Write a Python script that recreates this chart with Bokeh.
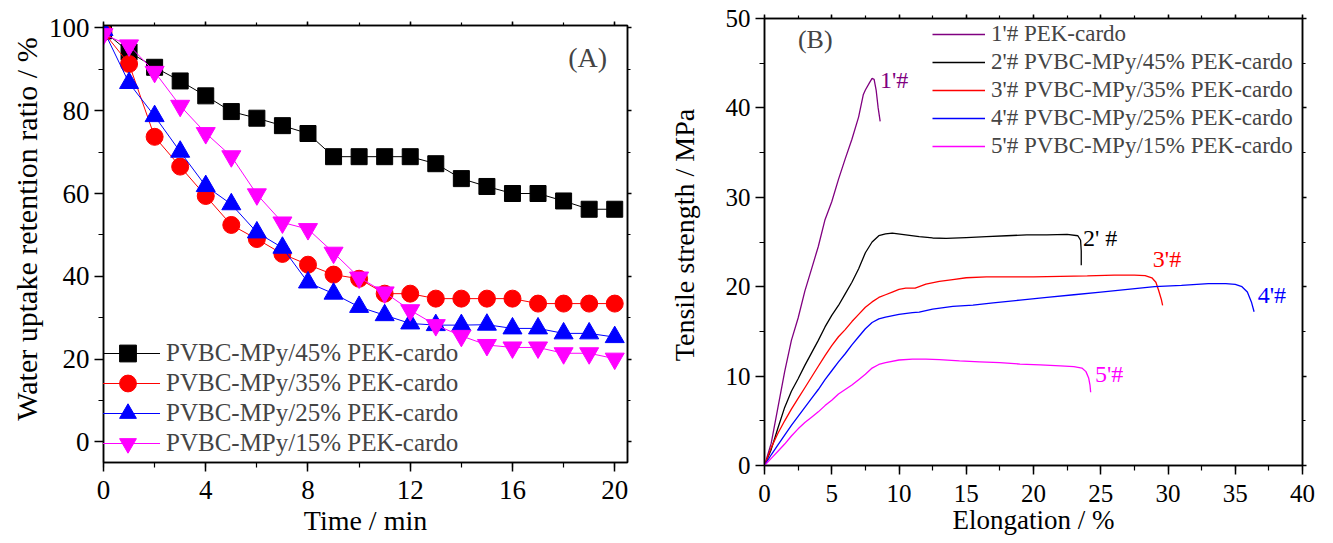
from bokeh.plotting import figure
from bokeh.layouts import row
from bokeh.models import (LinearAxis, SingleIntervalTicker, Range1d, Legend,
                          LegendItem, Label)
from bokeh.embed import file_html
from bokeh.resources import INLINE

FONT = "Liberation Serif"
NBSP = "\u00a0"

# ---------------- Panel A data ----------------
time_min = list(range(21))
s45 = [99.3, 94.2, 90.5, 87.2, 83.6, 79.8, 78.2, 76.4, 74.5, 68.9, 68.9, 68.9,
       68.9, 67.2, 63.6, 61.7, 60.0, 60.0, 58.2, 56.2, 56.2]
s35 = [99.0, 91.3, 73.7, 66.5, 59.4, 52.4, 49.0, 45.4, 42.8, 40.4, 39.4, 35.8,
       35.8, 34.6, 34.6, 34.6, 34.6, 33.4, 33.4, 33.4, 33.4]
s25 = [99.5, 86.7, 78.7, 70.1, 61.8, 57.4, 50.6, 46.9, 38.5, 35.8, 32.6, 30.6,
       28.6, 28.2, 28.2, 28.3, 27.4, 27.4, 26.2, 26.2, 25.3]
s15 = [98.5, 95.8, 89.4, 81.2, 74.6, 69.0, 59.8, 53.0, 51.4, 45.7, 39.7, 36.1,
       31.8, 28.2, 25.6, 23.4, 22.8, 22.8, 21.4, 21.4, 20.1]
names_a = ["PVBC-MPy/45% PEK-cardo", "PVBC-MPy/35% PEK-cardo",
           "PVBC-MPy/25% PEK-cardo", "PVBC-MPy/15% PEK-cardo"]

# ---------------- Panel B data ----------------
c1_x = [0, 0.5, 1.0, 1.5, 2.0, 2.5, 3.0, 3.5, 4.0, 4.5, 5.0, 5.5, 6.0, 6.5, 7.0,
        7.35, 7.5, 7.8, 8.0, 8.15, 8.3, 8.45, 8.6]
c1_y = [0, 2.5, 6.5, 10.5, 14.0, 16.5, 19.5, 22.0, 24.5, 27.5, 29.5, 32.0, 34.3,
        36.5, 39.0, 41.5, 42.0, 42.8, 43.3, 43.2, 42.0, 40.0, 38.5]
c2_x = [0, 0.5, 1.0, 1.5, 2.0, 2.5, 3.0, 3.5, 4.0, 4.5, 5.0, 5.5, 6.0, 6.5, 7.0,
        7.5, 8.0, 8.5, 9.0, 9.5, 10.5, 11.5, 12.5, 13.5, 15.0, 16.5, 18.0, 19.5,
        21.0, 22.5, 23.3, 23.5, 23.55, 23.55]
c2_y = [0, 1.8, 4.2, 6.5, 8.3, 9.7, 11.2, 12.6, 14.0, 15.5, 16.8, 17.9, 19.2,
        20.5, 22.0, 23.8, 25.0, 25.7, 25.9, 26.0, 25.8, 25.6, 25.45, 25.4, 25.5,
        25.6, 25.7, 25.8, 25.8, 25.85, 25.7, 25.2, 24.0, 22.4]
c3_x = [0, 0.5, 1.0, 1.5, 2.0, 2.5, 3.0, 3.5, 4.0, 4.5, 5.0, 5.5, 6.0, 6.5, 7.0,
        7.5, 8.0, 8.5, 9.0, 9.5, 10.0, 10.5, 11.2, 12.0, 13.0, 14.0, 15.0, 16.5,
        18.0, 20.0, 22.0, 24.0, 26.0, 27.5, 28.3, 28.8, 29.1, 29.3, 29.5, 29.6]
c3_y = [0, 2.0, 3.6, 5.0, 6.3, 7.5, 8.7, 9.9, 11.1, 12.3, 13.4, 14.4, 15.2, 16.1,
        16.9, 17.7, 18.3, 18.8, 19.1, 19.4, 19.7, 19.85, 19.85, 20.3, 20.6, 20.8,
        21.0, 21.1, 21.1, 21.1, 21.15, 21.2, 21.3, 21.3, 21.25, 21.0, 20.5, 19.6,
        18.6, 17.9]
c4_x = [0, 0.5, 1.0, 1.5, 2.0, 2.5, 3.0, 3.5, 4.0, 4.5, 5.0, 5.5, 6.0, 6.5, 7.0,
        7.5, 8.0, 8.5, 9.0, 10.0, 11.0, 11.5, 12.5, 14.0, 15.5, 17.0, 19.0, 21.0,
        23.0, 25.0, 27.0, 29.0, 31.0, 33.0, 34.3, 35.0, 35.5, 35.9, 36.2, 36.4]
c4_y = [0, 1.2, 2.3, 3.4, 4.5, 5.5, 6.5, 7.5, 8.5, 9.6, 10.6, 11.6, 12.5, 13.5,
        14.4, 15.3, 16.0, 16.4, 16.6, 16.9, 17.1, 17.15, 17.5, 17.8, 17.95, 18.2,
        18.5, 18.8, 19.1, 19.4, 19.7, 20.0, 20.15, 20.35, 20.35, 20.25, 20.0,
        19.4, 18.3, 17.2]
c5_x = [0, 0.5, 1.0, 1.5, 2.0, 2.5, 3.0, 3.5, 4.0, 4.5, 5.0, 5.5, 6.0, 6.5, 7.0,
        7.5, 8.0, 8.5, 9.0, 10.0, 11.0, 12.0, 13.0, 14.5, 16.0, 17.5, 19.0, 20.5,
        22.0, 23.0, 23.6, 23.9, 24.1, 24.2, 24.25]
c5_y = [0, 0.8, 1.6, 2.4, 3.3, 4.1, 4.8, 5.4, 6.0, 6.7, 7.3, 8.0, 8.5, 9.0, 9.6,
        10.2, 10.9, 11.3, 11.5, 11.8, 11.9, 11.9, 11.85, 11.7, 11.6, 11.5, 11.35,
        11.25, 11.15, 11.05, 10.9, 10.5, 9.8, 9.0, 8.2]
names_b = ["1'# PEK-cardo", "2'# PVBC-MPy/45% PEK-cardo",
           "3'# PVBC-MPy/35% PEK-cardo", "4'# PVBC-MPy/25% PEK-cardo",
           "5'# PVBC-MPy/15% PEK-cardo"]
tags_b = ["1'#", "2' #", "3'#", "4'#", "5'#"]

colors_a = ["#000000", "#ff0000", "#0000ff", "#ff00ff"]
colors_b = ["#800080", "#000000", "#ff0000", "#0000ff", "#ff00ff"]


def style(p, xt, yt, tick_size, xlab, ylab, xlab_size, ylab_size,
          x_std, x_lab_std, y_lab_std):
    p.grid.visible = False
    p.outline_line_color = "black"
    p.outline_line_width = 1.5
    p.xaxis.ticker = xt
    p.yaxis.ticker = yt
    p.xaxis.axis_label = xlab
    p.yaxis.axis_label = ylab
    for ax in (p.xaxis[0], p.yaxis[0]):
        ax.axis_line_width = 1.5
        ax.major_tick_line_width = 1.5
        ax.minor_tick_line_width = 1.2
        ax.major_tick_out = 9
        ax.major_tick_in = 0
        ax.minor_tick_out = 5
        ax.minor_tick_in = 0
        ax.major_label_text_font = FONT
        ax.major_label_text_font_size = tick_size
        ax.major_label_text_color = "black"
        ax.axis_label_text_font = FONT
        ax.axis_label_text_font_style = "normal"
        ax.axis_label_text_color = "black"
    p.xaxis[0].major_label_standoff = x_std
    p.yaxis[0].major_label_standoff = 5
    p.xaxis[0].axis_label_text_font_size = xlab_size
    p.yaxis[0].axis_label_text_font_size = ylab_size
    p.xaxis[0].axis_label_standoff = x_lab_std
    p.yaxis[0].axis_label_standoff = y_lab_std
    for side, tk in (("above", xt), ("right", yt)):
        ax = LinearAxis(ticker=tk, major_label_text_font_size="1px",
                        major_label_text_color=None, major_label_text_alpha=0,
                        major_label_standoff=0, axis_line_width=1.5,
                        major_tick_line_width=1.5, minor_tick_line_width=1.2,
                        major_tick_out=4, major_tick_in=0,
                        minor_tick_out=3, minor_tick_in=0)
        p.add_layout(ax, side)


# ---------------- Panel A ----------------
pA = figure(width=660, height=538, x_range=Range1d(0, 20.5),
            y_range=Range1d(-5, 100.6), output_backend="svg",
            toolbar_location=None, min_border_left=103, min_border_right=33,
            min_border_top=25, min_border_bottom=75, frame_align=False)
style(pA, SingleIntervalTicker(interval=4, num_minor_ticks=2),
      SingleIntervalTicker(interval=20, num_minor_ticks=2), "27px",
      "Time / min", NBSP * 5 + "Water uptake retention ratio  / %", "28px",
      "30px", 9, 3, 3)

markers = ["square", "circle", "triangle", "inverted_triangle"]
sizes = [16, 17, 19, 19]
for i, (vals, c, m, s, nm) in enumerate(zip([s45, s35, s25, s15], colors_a,
                                             markers, sizes, names_a)):
    ln = pA.line(time_min, vals, line_color=c, line_width=1)
    sc = pA.scatter(time_min, vals, marker=m, size=s, fill_color=c, line_color=c)
    leg = Legend(items=[LegendItem(label=nm, renderers=[ln, sc])],
                 location=(-8, 88 - 30 * i), glyph_width=65, glyph_height=42,
                 label_height=30, label_standoff=6, spacing=0, padding=0,
                 margin=0, border_line_color=None, background_fill_alpha=0,
                 label_text_font=FONT, label_text_font_size="25px")
    pA.add_layout(leg)
pA.add_layout(Label(x=18.94, y=92.9, text="(A)", text_font=FONT,
                    text_font_size="28px", text_align="center",
                    text_baseline="middle"))

# ---------------- Panel B ----------------
pB = figure(width=667, height=538, x_range=Range1d(0, 40),
            y_range=Range1d(0, 50), output_backend="svg",
            toolbar_location=None, min_border_left=104, min_border_right=25,
            min_border_top=18, min_border_bottom=73, frame_align=False)
style(pB, SingleIntervalTicker(interval=5, num_minor_ticks=2),
      SingleIntervalTicker(interval=10, num_minor_ticks=2), "25px",
      "Elongation / %", NBSP * 3 + "Tensile strength  / MPa", "27px", "28px",
      10, 0, 23)

items_b = []
for xs, ys, c, nm in zip([c1_x, c2_x, c3_x, c4_x, c5_x],
                         [c1_y, c2_y, c3_y, c4_y, c5_y], colors_b, names_b):
    ln = pB.line(xs, ys, line_color=c, line_width=1.3)
    items_b.append(LegendItem(label=nm, renderers=[ln]))
legB = Legend(items=items_b, location=(168, 305), glyph_width=53,
              glyph_height=28, label_height=28, label_standoff=6, spacing=0,
              padding=0, margin=0, border_line_color=None,
              background_fill_alpha=0, label_text_font=FONT,
              label_text_font_size="23px")
pB.add_layout(legB)
pB.add_layout(Label(x=3.77, y=47.7, text="(B)", text_font=FONT,
                    text_font_size="26px", text_align="center",
                    text_baseline="middle"))
tag_pos = [(8.59, 43.1), (23.68, 25.5), (28.87, 23.1), (36.67, 19.1), (24.57, 10.2)]
for (tx, ty), t, c in zip(tag_pos, tags_b, colors_b):
    pB.add_layout(Label(x=tx, y=ty, text=t, text_font=FONT,
                        text_font_size="24px", text_color=c,
                        text_align="left", text_baseline="middle"))

layout = row(pA, pB)
open("out.html", "w").write(file_html(layout, INLINE))
